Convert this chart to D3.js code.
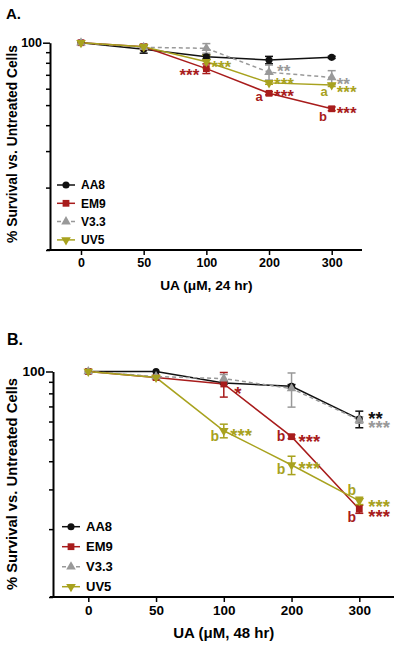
<!DOCTYPE html>
<html><head><meta charset="utf-8">
<script src="https://cdn.jsdelivr.net/npm/d3@7"></script>
<style>
body{margin:0;background:#fff;}
svg{display:block;font-family:"Liberation Sans",Arial,sans-serif;font-weight:bold;}
</style>
</head><body><svg id="c" width="400" height="648"></svg>
<script>
// ---------- DATA ----------
const doses = ["0","50","100","200","300"];
const seriesNames = ["AA8","EM9","V3.3","UV5"];
const yTicks = [10,20,30,40,50,60,70,80,90,100];
const yTickLabels = ["100"];

// Panel A: 24 hr
const aa8_24 = [100, 93, 85.5, 82.5, 85];
const em9_24 = [100, 95.5, 75, 57, 48];
const v33_24 = [100, 95, 94, 72, 68];
const uv5_24 = [100, 95.5, 81, 64, 62.5];
const aa8_24_err = [0, 4, 2, 3.4, 1];
const em9_24_err = [0, 2, 4, 1, 1];
const v33_24_err = [0, 2, 5, 6, 5.3];
const uv5_24_err = [0, 3, 6, 1, 1];

// Panel B: 48 hr
const aa8_48 = [100, 100, 89, 86, 61.5];
const em9_48 = [100, 94, 88, 51.4, 24.5];
const v33_48 = [100, 95, 93, 84, 61];
const uv5_48 = [100, 94, 54.6, 38.5, 26.7];
const aa8_48_err = [0, 0.5, 1, 1.5, 5.2];
const em9_48_err = [0, 1, 11, 1, 1];
const v33_48_err = [0, 1, 4, 14.5, 2];
const uv5_48_err = [0, 1, 3.8, 3.6, 1];

// significance annotations: [series, dose, text]
const annotA = [
  ["EM9","100","***"],["UV5","100","***"],["V3.3","200","**"],["UV5","200","***"],
  ["EM9","200","***"],["EM9","200","a"],["V3.3","300","**"],["UV5","300","***"],
  ["UV5","300","a"],["EM9","300","***"],["EM9","300","b"]
];
const annotB = [
  ["EM9","100","*"],["AA8","300","**"],["V3.3","300","***"],["UV5","100","b"],
  ["UV5","100","***"],["EM9","200","b"],["EM9","200","***"],["UV5","200","b"],
  ["UV5","200","***"],["UV5","300","b"],["UV5","300","***"],["EM9","300","b"],["EM9","300","***"]
];

// ---------- STYLE / LAYOUT ----------
const colors = {"AA8":"#111111","EM9":"#a81c1c","V3.3":"#999999","UV5":"#a8a21e"};
const dashes = {"AA8":null,"EM9":null,"V3.3":"4,3","UV5":null};
const symbols = {"AA8":d3.symbolCircle,"EM9":d3.symbolSquare,"V3.3":d3.symbolTriangle,"UV5":d3.symbolTriangle};
const symSize = {"AA8":40,"EM9":46,"V3.3":40,"UV5":40};
const symRot = {"AA8":0,"EM9":0,"V3.3":0,"UV5":180};

// offsets [dx, dy, anchor] relative to point for annotation (centre-y)
const offA = [[-7,2,"end"],[5,1,"start"],[8,-5.6,"start"],[5,-3,"start"],[5,-2,"start"],[-10,3.5,"middle"],
  [5,2.6,"start"],[5,3,"start"],[-7.7,6.7,"middle"],[5,0,"start"],[-8.7,8,"middle"]];
const offB = [[14,5,"middle"],[9,-5.6,"start"],[9,2.7,"start"],[-9,6,"middle"],[6.5,0,"start"],[-10.6,0.6,"middle"],
  [7,0,"start"],[-10.6,5,"middle"],[7,-1,"start"],[-7.6,-10,"middle"],[9,1,"start"],[-7.6,9,"middle"],[9,2.4,"start"]];

const svg = d3.select("#c");

function panel(cfg){
  const g = svg.append("g");
  const x = d3.scalePoint().domain(doses).range([cfg.xFirst, cfg.xLast]);
  const y = d3.scaleLog().domain([10,100]).range([cfg.yBottom, cfg.yTop]);
  const fs = cfg.fs;

  g.append("text").attr("x",cfg.letterX).attr("y",cfg.letterY).attr("font-size",cfg.letterFs).text(cfg.letter);

  const yAxis = d3.axisLeft(y).tickValues(yTicks)
    .tickFormat(d => yTickLabels.includes(String(d)) ? String(d) : "")
    .tickSizeOuter(0);
  const ya = g.append("g").attr("transform",`translate(${cfg.axisX},0)`).call(yAxis);
  ya.select(".domain").attr("stroke","#000").attr("stroke-width",2);
  ya.selectAll(".tick line").attr("stroke","#000").attr("stroke-width",1.5)
    .attr("x2", d => d===100 ? -7 : -4);
  ya.selectAll(".tick text").attr("font-size",fs.tick).attr("font-family","Liberation Sans, Arial, sans-serif")
    .attr("font-weight","bold").attr("fill","#000").attr("x",-8);

  const xa = g.append("g").attr("transform",`translate(0,${cfg.yBottom})`)
    .call(d3.axisBottom(x).tickSizeOuter(0).tickSize(5).tickPadding(4));
  xa.select(".domain").attr("d",`M${cfg.axisX-3},0H${cfg.xEnd}`).attr("stroke","#000").attr("stroke-width",2);
  xa.selectAll(".tick line").attr("stroke","#000").attr("stroke-width",1.5);
  xa.selectAll(".tick text").attr("font-size",fs.tick).attr("font-family","Liberation Sans, Arial, sans-serif")
    .attr("font-weight","bold").attr("fill","#000").attr("y",8).attr("dy","0.71em");

  g.append("text").attr("x",(cfg.xFirst+cfg.xLast)/2).attr("y",cfg.xTitleY).attr("text-anchor","middle")
    .attr("font-size",fs.title).text(cfg.xTitle);
  g.append("text").attr("transform",`translate(${cfg.yTitleX},${cfg.yTitleY}) rotate(-90)`)
    .attr("text-anchor","middle").attr("font-size",fs.ytitle).text("% Survival vs. Untreated Cells");

  const data = cfg.data;
  const line = d3.line().x((d,i)=>x(doses[i])).y(d=>y(d));
  seriesNames.forEach(s=>{
    g.append("path").attr("d",line(data[s].v)).attr("fill","none").attr("stroke",colors[s])
      .attr("stroke-width",1.5).attr("stroke-dasharray",dashes[s]);
  });
  seriesNames.forEach(s=>{
    const v=data[s].v, e=data[s].e, c=colors[s];
    v.forEach((val,i)=>{
      if(e[i]>0.6){
        const xx=x(doses[i]), y1=y(val+e[i]), y2=y(val-e[i]);
        g.append("line").attr("x1",xx).attr("x2",xx).attr("y1",y1).attr("y2",y2).attr("stroke",c).attr("stroke-width",1.5);
        [y1,y2].forEach(yy=>g.append("line").attr("x1",xx-4).attr("x2",xx+4).attr("y1",yy).attr("y2",yy).attr("stroke",c).attr("stroke-width",1.5));
      }
    });
  });
  seriesNames.forEach(s=>{
    const v=data[s].v;
    g.selectAll(null).data(v).enter().append("path")
      .attr("d",d3.symbol().type(symbols[s]).size(symSize[s]))
      .attr("transform",(d,i)=>`translate(${x(doses[i])},${y(d)}) rotate(${symRot[s]})`)
      .attr("fill",colors[s]);
  });

  cfg.annot.forEach((a,k)=>{
    const [s,dose,txt]=a, o=cfg.off[k];
    const i=doses.indexOf(dose);
    const px=x(dose), py=y(data[s].v[i]);
    const isStar = txt.includes("*");
    const f = isStar ? fs.star : fs.letterAnn;
    const base = isStar ? 0.6*f : 0.3*f;
    g.append("text").attr("x",px+o[0]).attr("y",py+o[1]+base).attr("text-anchor",o[2])
      .attr("font-size",f).attr("fill",colors[s]).text(txt);
  });

  seriesNames.forEach((s,k)=>{
    const ly = cfg.legY + k*cfg.legStep;
    g.append("line").attr("x1",cfg.legX).attr("x2",cfg.legX+18).attr("y1",ly).attr("y2",ly)
      .attr("stroke",colors[s]).attr("stroke-width",1.5).attr("stroke-dasharray",dashes[s]);
    g.append("path").attr("d",d3.symbol().type(symbols[s]).size(symSize[s]))
      .attr("transform",`translate(${cfg.legX+9},${ly}) rotate(${symRot[s]})`).attr("fill",colors[s]);
    g.append("text").attr("x",cfg.legX+24).attr("y",ly+0.36*fs.legend).attr("font-size",fs.legend).text(s);
  });
}

panel({
  letter:"A.", letterX:6, letterY:19, letterFs:15,
  axisX:50, xFirst:81, xLast:331.7, xEnd:362, yTop:42.7, yBottom:250,
  xTitle:"UA (\u03bcM, 24 hr)", xTitleY:290, yTitleX:17, yTitleY:144,
  fs:{tick:12.5, title:13.7, ytitle:13.8, legend:12, star:17, letterAnn:13},
  legX:57, legY:185, legStep:18.3,
  data:{"AA8":{v:aa8_24,e:aa8_24_err},"EM9":{v:em9_24,e:em9_24_err},"V3.3":{v:v33_24,e:v33_24_err},"UV5":{v:uv5_24,e:uv5_24_err}},
  annot:annotA, off:offA
});
panel({
  letter:"B.", letterX:7, letterY:345, letterFs:16,
  axisX:53, xFirst:88.3, xLast:359.3, xEnd:394, yTop:371.5, yBottom:597,
  xTitle:"UA (\u03bcM, 48 hr)", xTitleY:638, yTitleX:17, yTitleY:484,
  fs:{tick:13.5, title:15, ytitle:14.8, legend:13, star:18.5, letterAnn:14},
  legX:62, legY:526.7, legStep:20,
  data:{"AA8":{v:aa8_48,e:aa8_48_err},"EM9":{v:em9_48,e:em9_48_err},"V3.3":{v:v33_48,e:v33_48_err},"UV5":{v:uv5_48,e:uv5_48_err}},
  annot:annotB, off:offB
});
</script>
</body></html>
